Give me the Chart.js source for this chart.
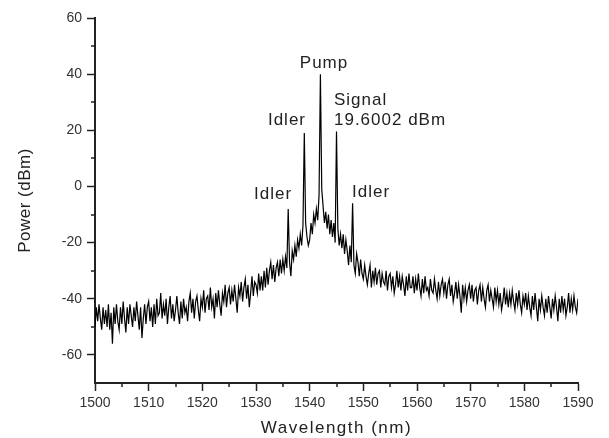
<!DOCTYPE html>
<html>
<head>
<meta charset="utf-8">
<script src="https://cdn.jsdelivr.net/npm/chart.js@4.4.1/dist/chart.umd.min.js"></script>
<style>
  html, body { margin: 0; padding: 0; background: #fff; }
  #wrap { width: 609px; height: 438px; }
</style>
</head>
<body>
<div id="wrap"><canvas id="spectrumChart" width="609" height="438"></canvas></div>
<script>
// wavelength grid: 1500 nm .. 1590 nm, one sample every 0.25 nm
const startNm = 1500
const stepNm = 0.25

// measured power (dBm), four samples per nm, five nm per row
const power = [
  -50, -43, -48, -42,  -47, -51, -43, -49,  -44, -50, -42, -51,  -45, -56, -43, -49,  -42, -48, -51, -43,
  -49, -41, -47, -52,  -43, -49, -42, -46,  -50, -43, -48, -41,  -46, -51, -43, -54,  -47, -42, -49, -43,
  -41, -48, -43, -50,  -42, -49, -40, -46,  -45, -38, -47, -42,  -46, -40, -49, -43,  -39, -47, -42, -48,
  -44, -39, -45, -49,  -41, -47, -40, -45,  -43, -48, -41, -38,  -45, -40, -47, -41,  -39, -44, -48, -40,
  -43, -37, -45, -40,  -39, -44, -36, -43,  -40, -47, -38, -43,  -37, -42, -46, -38,  -41, -35, -43, -38,
  -36, -42, -37, -41,  -35, -40, -45, -36,  -39, -34, -41, -36,  -33, -40, -35, -43,  -38, -32, -39, -34,
  -35, -38, -31, -37,  -32, -37, -30, -36,  -29, -35, -30, -27,  -33, -28, -34, -29,  -27, -32, -26, -31,
  -26, -30, -25, -29,  -8, -27, -32, -23,  -26, -21, -25, -19,  -22, -17, -21, -14,  19, -13, -18, -21,
  -19, -13, -17, -10,  -13, -8, -12, -3,  40, -1, -7, -13,  -9, -15, -10, -17,  -12, -18, -13, -20,
  19.6, -15, -21, -17,  -22, -17, -24, -19,  -23, -28, -21, -27,  -6, -28, -31, -24,  -27, -32, -26, -31,
  -33, -28, -32, -35,  -31, -28, -36, -30,  -34, -29, -35, -31,  -30, -36, -31, -34,  -35, -30, -37, -32,
  -31, -36, -32, -38,  -35, -30, -36, -32,  -37, -32, -35, -39,  -32, -37, -31, -36,  -36, -32, -38, -33,
  -37, -31, -36, -39,  -33, -38, -32, -37,  -36, -39, -33, -37,  -38, -33, -37, -40,  -34, -39, -35, -33,
  -38, -34, -40, -35,  -33, -39, -35, -41,  -38, -34, -40, -35,  -39, -45, -35, -40,  -36, -41, -37, -35,
  -40, -35, -41, -37,  -36, -42, -37, -35,  -41, -36, -40, -43,  -37, -35, -41, -37,  -40, -43, -36, -41,
  -37, -42, -38, -44,  -41, -36, -42, -38,  -43, -38, -42, -37,  -41, -44, -38, -42,  -37, -42, -45, -39,
  -42, -38, -44, -39,  -43, -46, -39, -44,  -38, -43, -48, -40,  -44, -39, -43, -46,  -40, -45, -39, -43,
  -47, -40, -44, -39,  -43, -48, -40, -45,  -39, -44, -40, -46,  -43, -38, -45, -40,  -44, -39, -43, -45,
  -40
]

const xTicks = [1500, 1510, 1520, 1530, 1540, 1550, 1560, 1570, 1580, 1590]
const yTicks = [-60, -40, -20, 0, 20, 40, 60]

const peakLabels = [
  { text: 'Pump', nm: 1542.67, dbm: 44, align: 'center' },
  { text: 'Idler', nm: 1535.77, dbm: 23.6, align: 'center' },
  { text: 'Signal', nm: 1544.53, dbm: 30.7, align: 'left' },
  { text: '19.6002 dBm', nm: 1544.53, dbm: 23.6, align: 'left' },
  { text: 'Idler', nm: 1533.17, dbm: -2.7, align: 'center' },
  { text: 'Idler', nm: 1551.43, dbm: -2, align: 'center' },
]

const points = power.map((p, i) => ({ x: startNm + i * stepNm, y: p }))

const FONT = 'Liberation Sans, Arial, sans-serif'

// minor ticks, axis titles and peak labels
const extrasPlugin = {
  id: 'extras',
  afterDraw(chart) {
    const ctx = chart.ctx
    const xs = chart.scales.x
    const ys = chart.scales.y
    ctx.save()
    ctx.strokeStyle = '#222'
    ctx.lineWidth = 1.5
    ctx.beginPath()
    for (let v = 1505; v < 1590; v += 10) {
      const px = Math.round(xs.getPixelForValue(v))
      ctx.moveTo(px, ys.bottom)
      ctx.lineTo(px, ys.bottom + 4)
    }
    for (let v = -50; v < 60; v += 20) {
      const py = Math.round(ys.getPixelForValue(v))
      ctx.moveTo(xs.left, py)
      ctx.lineTo(xs.left - 4, py)
    }
    ctx.stroke()

    ctx.fillStyle = '#222'
    ctx.textBaseline = 'middle'

    // axis titles
    ctx.font = '17px ' + FONT
    ctx.letterSpacing = '1.5px'
    ctx.textAlign = 'center'
    ctx.fillText('Wavelength (nm)', (xs.left + xs.right) / 2, 428)
    ctx.letterSpacing = '0.5px'
    ctx.save()
    ctx.translate(25, (ys.top + ys.bottom) / 2)
    ctx.rotate(-Math.PI / 2)
    ctx.fillText('Power (dBm)', 0, 0)
    ctx.restore()

    ctx.font = '17px ' + FONT
    ctx.letterSpacing = '1px'
    peakLabels.forEach((l) => {
      ctx.textAlign = l.align
      ctx.fillText(l.text, xs.getPixelForValue(l.nm), ys.getPixelForValue(l.dbm))
    })
    ctx.restore()
  },
}

new Chart(document.getElementById('spectrumChart').getContext('2d'), {
  type: 'line',
  data: {
    datasets: [
      {
        data: points,
        borderColor: '#000',
        borderWidth: 1.2,
        pointRadius: 0,
        tension: 0,
        fill: false,
      },
    ],
  },
  options: {
    responsive: false,
    animation: false,
    events: [],
    layout: { padding: { top: 18, right: 31, left: 0, bottom: 0 } },
    plugins: { legend: { display: false }, tooltip: { enabled: false } },
    scales: {
      x: {
        type: 'linear',
        min: 1500,
        max: 1590,
        afterBuildTicks: (s) => { s.ticks = xTicks.map((v) => ({ value: v })) },
        afterFit: (s) => { s.height = 55 },
        border: { display: true, color: '#222', width: 2 },
        grid: { drawOnChartArea: false, drawTicks: true, tickLength: 8, tickColor: '#222', tickWidth: 1.5 },
        ticks: {
          color: '#333',
          font: { family: FONT, size: 14 },
          padding: 4,
          maxRotation: 0,
          callback: (v) => String(v),
        },
      },
      y: {
        min: -70,
        max: 60,
        afterBuildTicks: (s) => { s.ticks = yTicks.map((v) => ({ value: v })) },
        afterFit: (s) => { s.width = 95 },
        border: { display: true, color: '#222', width: 2 },
        grid: { drawOnChartArea: false, drawTicks: true, tickLength: 8, tickColor: '#222', tickWidth: 1.5 },
        ticks: { color: '#333', font: { family: FONT, size: 14 }, padding: 5, callback: (v) => String(v) },
      },
    },
  },
  plugins: [extrasPlugin],
})
</script>
</body>
</html>
